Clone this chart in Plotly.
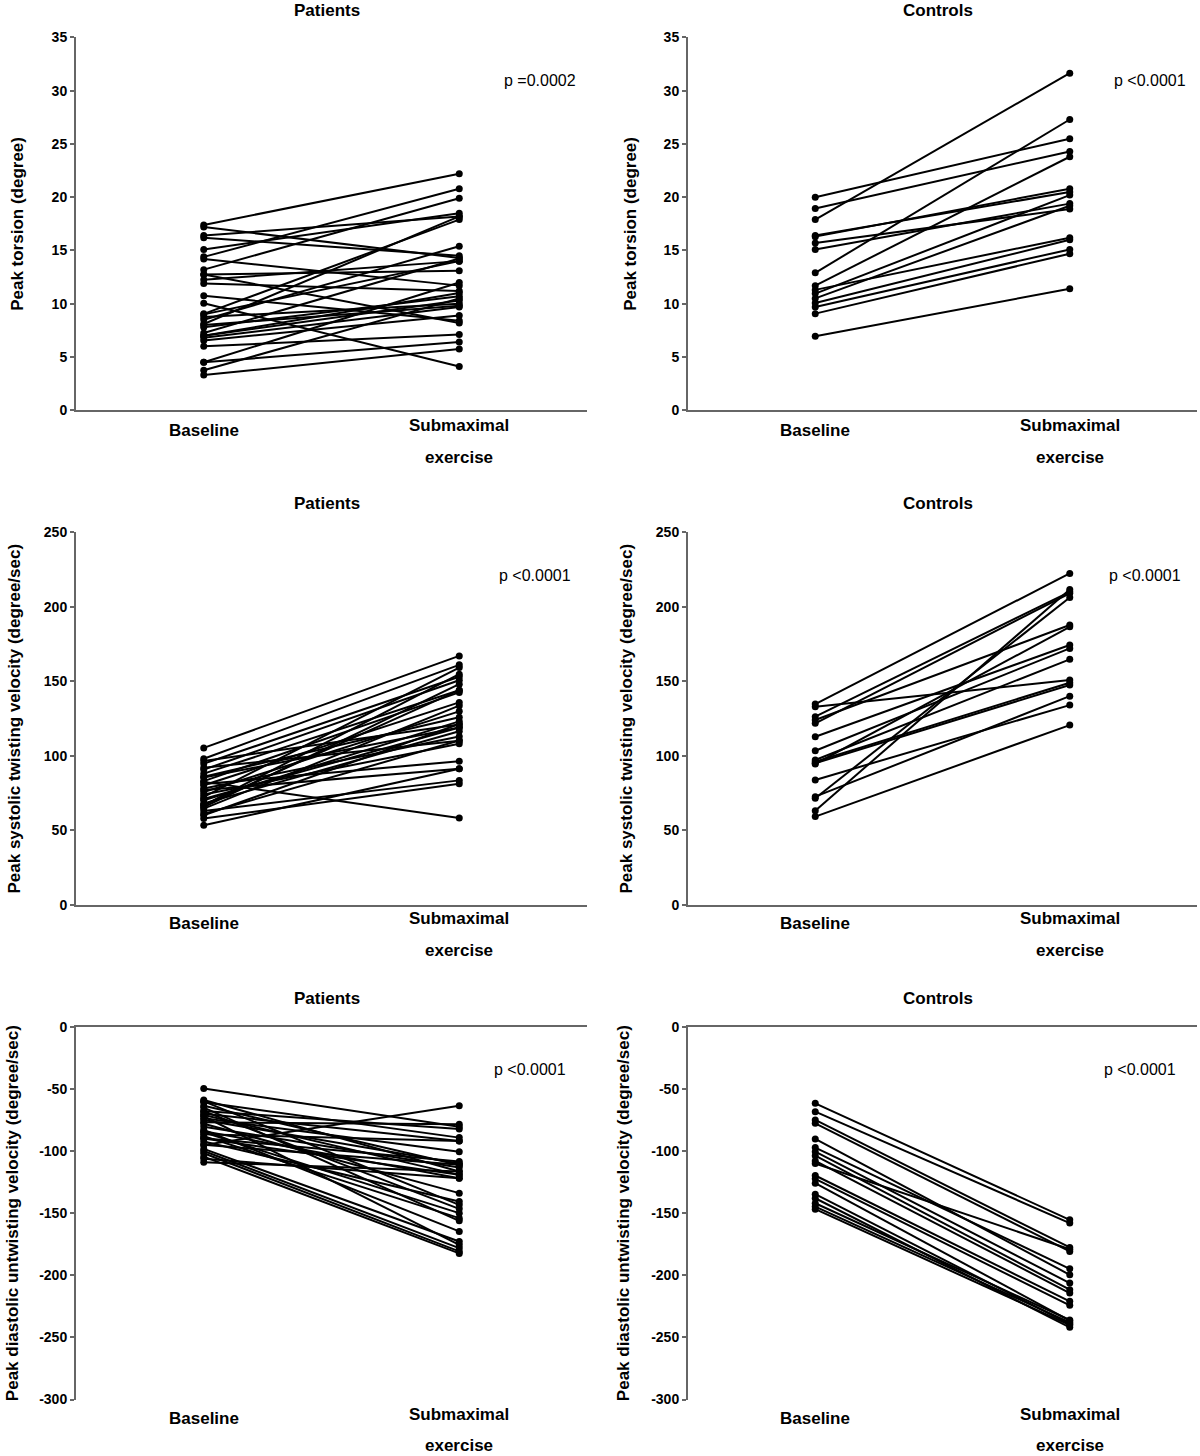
import plotly.graph_objects as go

W, H = 1200, 1456

categories = ["Baseline", "Submaximal exercise"]

# Panel 1: Patients, peak torsion (degree)
pt_torsion_base = [17.4, 17.2, 16.4, 16.2, 15.1, 14.4, 14.2, 13.2, 12.75, 12.25, 11.9, 10.75,
                   10.05, 9.05, 8.75, 8.5, 8.1, 7.8, 7.25, 7.0, 6.8, 6.55, 6.0, 4.5, 4.5, 3.75,
                   3.3, 9.0, 7.0, 8.0, 12.75]
pt_torsion_sub = [22.2, 14.3, 18.2, 14.5, 18.5, 20.8, 11.7, 19.9, 13.1, 14.0, 11.2, 8.4,
                  4.1, 17.9, 10.0, 15.4, 18.2, 10.7, 14.25, 10.3, 9.7, 8.9, 7.1, 12.0, 6.4, 10.5,
                  5.75, 14.0, 11.0, 9.8, 8.2]

# Panel 2: Controls, peak torsion (degree)
ct_torsion_base = [20.0, 18.95, 17.9, 16.4, 16.3, 15.7, 15.1, 12.9, 11.7, 11.3, 10.95, 10.5,
                   10.07, 9.7, 9.07, 6.94]
ct_torsion_sub = [25.5, 24.3, 31.65, 20.5, 20.8, 18.9, 19.4, 27.3, 23.8, 16.2, 20.2, 19.2,
                  16.0, 15.1, 14.7, 11.4]

# Panel 3: Patients, peak systolic twisting velocity (degree/sec)
pt_sys_base = [105.3, 98, 96.5, 94.7, 92, 90.7, 88, 86, 85.4, 83, 82.5, 81, 80.2, 78, 77, 75.7,
               74, 72.4, 70.1, 68, 66.8, 65.5, 64.6, 63, 61, 60.1, 57.9, 53.4, 67, 71]
pt_sys_sub = [167, 161, 121, 153, 110, 150.7, 144, 125.8, 119, 142.5, 58.3, 96.4, 135.8, 112.9,
              91.3, 129.8, 108, 159.2, 123.1, 116.4, 154.7, 148, 133.6, 83.5, 110.2, 121.3, 81.3,
              91.3, 144, 119]

# Panel 4: Controls, peak systolic twisting velocity (degree/sec)
ct_sys_base = [134.7, 132.9, 126.2, 124, 121.8, 112.8, 103.4, 97.2, 96, 94.5, 83.8, 72.6, 71.5,
               63.2, 59.2, 95]
ct_sys_sub = [222.3, 150.8, 210, 187.7, 209, 174.3, 172, 164.7, 149, 186.5, 134, 140, 206.2,
              211.6, 120.6, 147.5]

# Panel 5: Patients, peak diastolic untwisting velocity (degree/sec)
pt_dia_base = [-49.6, -58.9, -60.8, -60, -63.5, -65, -67.8, -68, -71, -72, -73.7, -76.9, -78,
               -80.4, -83, -84, -86.5, -88, -89.7, -95.1, -92.4, -98.3, -100, -101.8, -104.5,
               -106.3, -109, -90, -85, -75, -95, -70]
pt_dia_sub = [-80.4, -116.5, -89.2, -143.3, -111.2, -156.2, -82.2, -146.5, -119.2, -175.5,
              -100.5, -78.5, -133.9, -113.3, -164.7, -121.9, -91.9, -154, -108.5, -63.5, -140.6,
              -172.8, -178.1, -180.8, -182.4, -121.9, -116.5, -119, -150, -110, -111, -92]

# Panel 6: Controls, peak diastolic untwisting velocity (degree/sec)
ct_dia_base = [-61.6, -68.3, -75, -77.7, -90.3, -97.2, -100.5, -103.7, -108, -119.7, -122.4,
               -125.9, -134.7, -138, -142, -144.7, -146.8, -110]
ct_dia_sub = [-155.4, -158, -177.6, -180.8, -199.6, -194.8, -206.3, -211.6, -214.3, -221,
              -224.2, -236.5, -239.2, -241.9, -236, -238, -240, -179]

# Tick values / labels per row
torsion_ticks = [0, 5, 10, 15, 20, 25, 30, 35]
torsion_ticktext = ["0", "5", "10", "15", "20", "25", "30", "35"]
systolic_ticks = [0, 50, 100, 150, 200, 250]
systolic_ticktext = ["0", "50", "100", "150", "200", "250"]
diastolic_ticks = [0, -50, -100, -150, -200, -250, -300]
diastolic_ticktext = ["0", "-50", "-100", "-150", "-200", "-250", "-300"]

panel_titles = ["Patients", "Controls"]
y_titles = ["Peak torsion (degree)",
            "Peak systolic twisting velocity (degree/sec)",
            "Peak diastolic untwisting velocity (degree/sec)"]
p_values = ["p =0.0002", "p <0.0001", "p <0.0001", "p <0.0001", "p <0.0001", "p <0.0001"]
y_ranges = [[0, 35], [0, 250], [-300, 0]]
row_ticks = [(torsion_ticks, torsion_ticktext), (systolic_ticks, systolic_ticktext),
             (diastolic_ticks, diastolic_ticktext)]

panels = [
    (pt_torsion_base, pt_torsion_sub), (ct_torsion_base, ct_torsion_sub),
    (pt_sys_base, pt_sys_sub), (ct_sys_base, ct_sys_sub),
    (pt_dia_base, pt_dia_sub), (ct_dia_base, ct_dia_sub),
]

# layout geometry (pixels, as measured on the target picture)
col_x = [(76, 587), (688, 1197)]
row_y = [(37, 410), (532, 905), (1027, 1400)]
title_y = [10, 503, 999]
ytitle_x = [[18, 631], [15, 627], [12, 623]]
p_pos = [[(540, 80), (1150, 80)], [(535, 575), (1145, 575)], [(530, 1070), (1140, 1070)]]
cat_label_y = [(430, 425, 457), (924, 919, 951), (1419, 1415, 1446)]

FONT = "Liberation Sans, Arial, sans-serif"
AX = "#666666"

fig = go.Figure()
layout = dict(width=W, height=H, margin=dict(l=0, r=0, t=0, b=0),
              plot_bgcolor="white", paper_bgcolor="white", showlegend=False,
              font=dict(family=FONT, color="black"))
annotations = []

VK = 1.0104  # vertical compensation for the capture


def px(x):
    return x / W


def py(y):
    yy = H / 2 + (y - H / 2) * VK
    return 1 - yy / H


for i, (base, sub) in enumerate(panels):
    r, c = divmod(i, 2)
    n = i + 1
    xa = "x" if n == 1 else f"x{n}"
    ya = "y" if n == 1 else f"y{n}"
    for b, s in zip(base, sub):
        fig.add_trace(go.Scatter(
            x=categories, y=[b, s], mode="lines+markers", xaxis=xa, yaxis=ya,
            line=dict(color="black", width=2),
            marker=dict(color="black", size=7),
            cliponaxis=False, hoverinfo="skip"))
    x0, x1 = col_x[c]
    y0, y1 = row_y[r]
    bottom_row = (r == 2)
    tv, tt = row_ticks[r]
    layout["xaxis" if n == 1 else f"xaxis{n}"] = dict(
        domain=[px(x0), px(x1)], anchor=ya, type="category", range=[-0.5, 1.5],
        showticklabels=False, ticks="", showgrid=False, zeroline=False,
        showline=True, linecolor=AX, linewidth=2,
        side="top" if bottom_row else "bottom", fixedrange=True)
    layout["yaxis" if n == 1 else f"yaxis{n}"] = dict(
        domain=[py(y1), py(y0)], anchor=xa, range=y_ranges[r],
        tickmode="array", tickvals=tv, ticktext=tt,
        showgrid=False, zeroline=False, showline=True, linecolor=AX, linewidth=2,
        ticks="outside", ticklen=4, tickwidth=1.5, tickcolor=AX,
        tickfont=dict(family=FONT, size=14, color="black", weight="bold"))
    # panel title
    annotations.append(dict(text=panel_titles[c], xref="paper", yref="paper",
                            x=px((x0 + x1) / 2 - 5), y=py(title_y[r]), xanchor="center",
                            yanchor="middle", showarrow=False,
                            font=dict(family=FONT, size=17, weight="bold")))
    # y axis title
    annotations.append(dict(text=y_titles[r], xref="paper", yref="paper",
                            x=px(ytitle_x[r][c]), y=py((y0 + y1) / 2), textangle=-90,
                            xanchor="center", yanchor="middle", showarrow=False,
                            font=dict(family=FONT, size=17, weight="bold")))
    # p-value
    ppx, ppy = p_pos[r][c]
    annotations.append(dict(text=p_values[i], xref="paper", yref="paper",
                            x=px(ppx), y=py(ppy), xanchor="center", yanchor="middle",
                            showarrow=False, font=dict(family=FONT, size=16)))
    # category labels
    yb, ys1, ys2 = cat_label_y[r]
    annotations.append(dict(text=categories[0], xref=xa, yref="paper", x=0, y=py(yb),
                            xanchor="center", yanchor="middle", showarrow=False,
                            font=dict(family=FONT, size=17, weight="bold")))
    sub_words = categories[1].split(" ")
    annotations.append(dict(text=sub_words[0], xref=xa, yref="paper", x=1, y=py(ys1),
                            xanchor="center", yanchor="middle", showarrow=False,
                            font=dict(family=FONT, size=17, weight="bold")))
    annotations.append(dict(text=sub_words[1], xref=xa, yref="paper", x=1, y=py(ys2),
                            xanchor="center", yanchor="middle", showarrow=False,
                            font=dict(family=FONT, size=17, weight="bold")))

layout["annotations"] = annotations
fig.update_layout(**layout)

post = ("document.documentElement.style.margin='0';"
        "document.documentElement.style.overflow='hidden';"
        "document.body.style.margin='0';"
        "document.body.style.overflow='hidden';"
        "var d=document.getElementById('{plot_id}');"
        "d.style.position='fixed';d.style.top='0px';d.style.left='0px';")
fig.write_html("out.html", config={"displayModeBar": False}, post_script=post)
